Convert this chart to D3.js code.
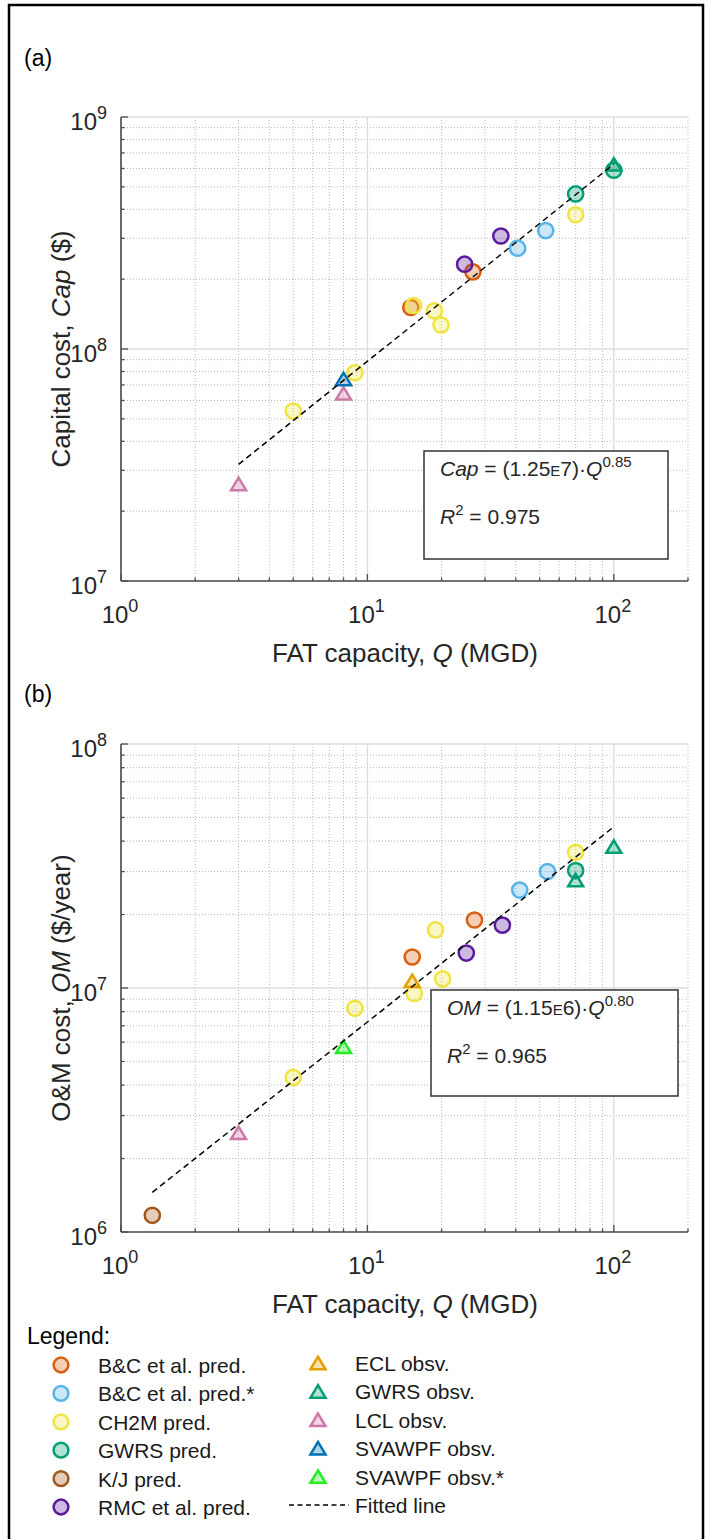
<!DOCTYPE html>
<html>
<head>
<meta charset="utf-8">
<script src="https://cdn.jsdelivr.net/npm/d3@7"></script>
<style>
  body { margin: 0; background: #fff; }
  text { font-family: "Liberation Sans", Arial, sans-serif; fill: #262626; }
</style>
</head>
<body>
<svg id="fig" width="710" height="1539"></svg>
<script>
// series, in legend order
const seriesNames = ["B&C et al. pred.", "B&C et al. pred.*", "CH2M pred.", "GWRS pred.", "K/J pred.", "RMC et al. pred.",
                     "ECL obsv.", "GWRS obsv.", "LCL obsv.", "SVAWPF obsv.", "SVAWPF obsv.*"];
const seriesColors = ["#d95f0e", "#56b4e9", "#f0e442", "#009e73", "#a0581a", "#5b1a9c",
                      "#e69f00", "#009e73", "#cc79a7", "#0072b2", "#22ee22"];
const seriesMarkers = ["o", "o", "o", "o", "o", "o", "^", "^", "^", "^", "^"];

// panel (a): [series, Q (MGD), capital cost ($)]
const capPoints = [
  [0, 15.0, 1.51e8], [0, 26.8, 2.15e8],
  [1, 40.7, 2.72e8], [1, 52.9, 3.24e8],
  [2, 5.0, 5.4e7], [2, 8.9, 7.9e7], [2, 15.4, 1.54e8], [2, 18.7, 1.46e8], [2, 19.9, 1.27e8], [2, 70, 3.79e8],
  [3, 70, 4.66e8], [3, 100, 5.9e8],
  [5, 24.8, 2.32e8], [5, 34.8, 3.07e8],
  [7, 100, 6.25e8],
  [8, 3.0, 2.62e7], [8, 8.0, 6.44e7],
  [9, 8.0, 7.43e7]
];

// panel (b): [series, Q (MGD), O&M cost ($/year)]
const omPoints = [
  [0, 15.2, 1.34e7], [0, 27.2, 1.9e7],
  [1, 41.5, 2.52e7], [1, 53.8, 3.0e7],
  [2, 5.0, 4.3e6], [2, 8.9, 8.26e6], [2, 15.5, 9.5e6], [2, 18.9, 1.73e7], [2, 20.2, 1.09e7], [2, 70, 3.6e7],
  [3, 70, 3.03e7],
  [4, 1.34, 1.17e6],
  [5, 25.2, 1.39e7], [5, 35.3, 1.81e7],
  [6, 15.2, 1.07e7],
  [7, 70, 2.77e7], [7, 100, 3.8e7],
  [8, 3.0, 2.55e6],
  [10, 8.0, 5.74e6]
];

// fitted lines: coefficient, exponent, Q range
const capFit = [1.25e7, 0.85];
const capFitRange = [3, 100];
const omFit = [1.15e6, 0.80];
const omFitRange = [1.34, 100];

const xDomain = [1, 200];
const xTicks = [1, 10, 100];

const svg = d3.select('#fig');

// outer frame
svg.append('rect')
  .attr('x', 9).attr('y', 5).attr('width', 694).attr('height', 1600)
  .attr('fill', 'none').attr('stroke', '#000').attr('stroke-width', 2.5);

const x = d3.scaleLog().domain(xDomain).range([121, 688]);

function minorValues(domain) {
  const vals = [];
  for (let e = Math.floor(Math.log10(domain[0])); e <= Math.ceil(Math.log10(domain[1])); e++) {
    for (let m = 2; m <= 9; m++) {
      const v = m * Math.pow(10, e);
      if (v >= domain[0] && v <= domain[1] * 1.0001) vals.push(v);
    }
  }
  return vals;
}

function pow10Label(sel, exp, size, supSize) {
  sel.append('tspan').text('10').attr('font-size', size);
  sel.append('tspan').text(exp).attr('font-size', supSize).attr('dy', -11);
}

function trianglePath(w, h) {
  return `M0,${-h / 2}L${w / 2},${h / 2}L${-w / 2},${h / 2}Z`;
}

function drawPanel(opt) {
  const y = d3.scaleLog().domain(opt.yDomain).range([opt.bottom, opt.top]);
  const g = svg.append('g');
  const yMajor = d3.range(Math.log10(opt.yDomain[0]), Math.log10(opt.yDomain[1]) + 1).map(e => Math.pow(10, e));
  const yMinor = minorValues(opt.yDomain);
  const xMinor = minorValues(xDomain);

  // minor grid (dotted)
  g.selectAll('.xmg').data(xMinor).enter().append('line')
    .attr('x1', d => x(d)).attr('x2', d => x(d)).attr('y1', opt.top).attr('y2', opt.bottom)
    .attr('stroke', '#b8b8b8').attr('stroke-width', 1).attr('stroke-dasharray', '1,2');
  g.selectAll('.ymg').data(yMinor).enter().append('line')
    .attr('x1', x.range()[0]).attr('x2', x.range()[1]).attr('y1', d => y(d)).attr('y2', d => y(d))
    .attr('stroke', '#b8b8b8').attr('stroke-width', 1).attr('stroke-dasharray', '1,2');
  // major grid (solid)
  g.selectAll('.xMg').data(xTicks).enter().append('line')
    .attr('x1', d => x(d)).attr('x2', d => x(d)).attr('y1', opt.top).attr('y2', opt.bottom)
    .attr('stroke', '#dedede').attr('stroke-width', 1.5);
  g.selectAll('.yMg').data(yMajor).enter().append('line')
    .attr('x1', x.range()[0]).attr('x2', x.range()[1]).attr('y1', d => y(d)).attr('y2', d => y(d))
    .attr('stroke', '#dedede').attr('stroke-width', 1.5);

  // axes lines and inward ticks
  const axisColor = '#4d4d4d';
  g.append('line').attr('x1', 121).attr('x2', 121).attr('y1', opt.top).attr('y2', opt.bottom)
    .attr('stroke', axisColor).attr('stroke-width', 1.6);
  g.append('line').attr('x1', 121).attr('x2', 688).attr('y1', opt.bottom).attr('y2', opt.bottom)
    .attr('stroke', axisColor).attr('stroke-width', 1.6);
  g.selectAll('.yt').data(yMajor.map(v => [v, 7]).concat(yMinor.map(v => [v, 3.5]))).enter().append('line')
    .attr('x1', 121).attr('x2', d => 121 + d[1]).attr('y1', d => y(d[0])).attr('y2', d => y(d[0]))
    .attr('stroke', axisColor).attr('stroke-width', 1.3);
  g.selectAll('.xt').data(xTicks.map(v => [v, 7]).concat(xMinor.map(v => [v, 3.5]))).enter().append('line')
    .attr('x1', d => x(d[0])).attr('x2', d => x(d[0])).attr('y1', opt.bottom).attr('y2', d => opt.bottom - d[1])
    .attr('stroke', axisColor).attr('stroke-width', 1.3);

  // tick labels
  g.selectAll('.ytl').data(yMajor).enter().append('text')
    .attr('x', 107).attr('y', d => y(d) + 13).attr('text-anchor', 'end')
    .each(function(d) { pow10Label(d3.select(this), Math.round(Math.log10(d)), 24, 18); });
  g.selectAll('.xtl').data(xTicks).enter().append('text')
    .attr('x', d => x(d) - 1).attr('y', opt.bottom + 42).attr('text-anchor', 'middle')
    .each(function(d) { pow10Label(d3.select(this), Math.round(Math.log10(d)), 24, 18); });

  // axis labels
  const xl = g.append('text').attr('x', 405).attr('y', opt.bottom + 81).attr('text-anchor', 'middle').attr('font-size', 26);
  xl.append('tspan').text('FAT capacity, ');
  xl.append('tspan').text('Q').attr('font-style', 'italic');
  xl.append('tspan').text(' (MGD)');
  const yl = g.append('text').attr('transform', `translate(70,${(opt.top + opt.bottom) / 2}) rotate(-90)`)
    .attr('text-anchor', 'middle').attr('font-size', 26);
  yl.append('tspan').text(opt.yLabel[0]);
  yl.append('tspan').text(opt.yLabel[1]).attr('font-style', 'italic');
  yl.append('tspan').text(opt.yLabel[2]);

  // panel tag
  g.append('text').attr('x', 24).attr('y', opt.tagY).attr('font-size', 23).style('fill', '#000').text(opt.tag);

  // markers
  const pts = opt.points.slice().sort((a, b) => a[0] - b[0]);
  g.selectAll('.pt').data(pts).enter().append('path')
    .attr('transform', d => `translate(${x(d[1])},${y(d[2])})`)
    .attr('d', d => seriesMarkers[d[0]] === 'o' ? d3.symbol(d3.symbolCircle, Math.PI * 7.6 * 7.6)() : trianglePath(15, 12.5))
    .attr('fill', d => seriesColors[d[0]]).attr('fill-opacity', 0.3)
    .attr('stroke', d => seriesColors[d[0]]).attr('stroke-width', 2.5).attr('stroke-linejoin', 'miter');

  // fitted line
  const fitPts = opt.fitRange.map(q => [q, opt.fit[0] * Math.pow(q, opt.fit[1])]);
  g.append('path').datum(fitPts)
    .attr('d', d3.line().x(d => x(d[0])).y(d => y(d[1])))
    .attr('fill', 'none').attr('stroke', '#000').attr('stroke-width', 1.5).attr('stroke-dasharray', '6,4');

  // equation box
  const b = opt.box;
  g.append('rect').attr('x', b[0]).attr('y', b[1]).attr('width', b[2]).attr('height', b[3])
    .attr('fill', '#fff').attr('stroke', '#333').attr('stroke-width', 1.5);
  const e1 = g.append('text').attr('x', b[0] + 16).attr('y', b[1] + 25).attr('font-size', 21);
  e1.append('tspan').text(opt.eqVar).attr('font-style', 'italic');
  e1.append('tspan').text(' = (' + opt.eqCoef[0]);
  e1.append('tspan').text('E').attr('font-size', 15);
  e1.append('tspan').text(opt.eqCoef[1] + ')·');
  e1.append('tspan').text('Q').attr('font-style', 'italic');
  e1.append('tspan').text(opt.fit[1].toFixed(2)).attr('font-size', 15).attr('dy', -9);
  const e2 = g.append('text').attr('x', b[0] + 16).attr('y', b[1] + 73).attr('font-size', 21);
  e2.append('tspan').text('R').attr('font-style', 'italic');
  e2.append('tspan').text('2').attr('font-size', 15).attr('dy', -9);
  e2.append('tspan').text(' = ' + opt.r2.toFixed(3)).attr('dy', 9);
}

drawPanel({
  top: 117, bottom: 581, yDomain: [1e7, 1e9], points: capPoints,
  fit: capFit, fitRange: capFitRange, r2: 0.975,
  yLabel: ['Capital cost, ', 'Cap', ' ($)'], tag: '(a)', tagY: 66,
  box: [424, 451, 244, 108], eqVar: 'Cap', eqCoef: ['1.25', '7']
});

drawPanel({
  top: 744, bottom: 1232, yDomain: [1e6, 1e8], points: omPoints,
  fit: omFit, fitRange: omFitRange, r2: 0.965,
  yLabel: ['O&M cost, ', 'OM', ' ($/year)'], tag: '(b)', tagY: 702,
  box: [431, 990, 247, 106], eqVar: 'OM', eqCoef: ['1.15', '6']
});

// legend
const lg = svg.append('g');
lg.append('text').attr('x', 27).attr('y', 1344).attr('font-size', 23).style('fill', '#000').text('Legend:');
const leftItems = d3.range(0, 6);
const rightItems = d3.range(6, 11);
lg.selectAll('.lm1').data(leftItems).enter().append('path')
  .attr('transform', (d, i) => `translate(61,${1365 + i * 28.4})`)
  .attr('d', d3.symbol(d3.symbolCircle, Math.PI * 7.4 * 7.4)())
  .attr('fill', d => seriesColors[d]).attr('fill-opacity', 0.3)
  .attr('stroke', d => seriesColors[d]).attr('stroke-width', 2.5);
lg.selectAll('.lt1').data(leftItems).enter().append('text')
  .attr('x', 98).attr('y', (d, i) => 1373 + i * 28.4).attr('font-size', 21).style('fill', '#1a1a1a')
  .text(d => seriesNames[d]);
lg.selectAll('.lm2').data(rightItems).enter().append('path')
  .attr('transform', (d, i) => `translate(318,${1363 + i * 28.4})`)
  .attr('d', trianglePath(15, 12.5))
  .attr('fill', d => seriesColors[d]).attr('fill-opacity', 0.3)
  .attr('stroke', d => seriesColors[d]).attr('stroke-width', 2.5);
lg.selectAll('.lt2').data(rightItems).enter().append('text')
  .attr('x', 355).attr('y', (d, i) => 1371 + i * 28.4).attr('font-size', 21).style('fill', '#1a1a1a')
  .text(d => seriesNames[d]);
lg.append('line').attr('x1', 289).attr('x2', 349).attr('y1', 1505).attr('y2', 1505)
  .attr('stroke', '#000').attr('stroke-width', 1.3).attr('stroke-dasharray', '5,3.5');
lg.append('text').attr('x', 355).attr('y', 1513).attr('font-size', 21).style('fill', '#1a1a1a').text('Fitted line');
</script>
</body>
</html>
